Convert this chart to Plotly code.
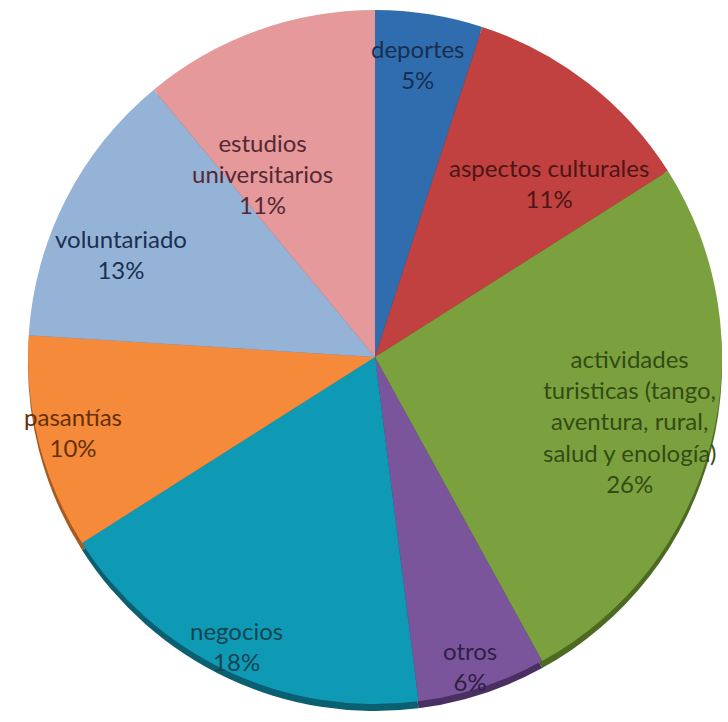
import math
import plotly.graph_objects as go

# Share of programme types (percent), clockwise from 12 o'clock
categories = [
    "deportes",
    "aspectos culturales",
    "actividades turisticas (tango, aventura, rural, salud y enología)",
    "otros",
    "negocios",
    "pasantías",
    "voluntariado",
    "estudios universitarios",
]
values = [5, 11, 26, 6, 18, 10, 13, 11]

# Wrapped label text as shown on each slice
label_lines = [
    ["deportes"],
    ["aspectos culturales"],
    ["actividades", "turisticas (tango,", "aventura, rural,", "salud y enología)"],
    ["otros"],
    ["negocios"],
    ["pasantías"],
    ["voluntariado"],
    ["estudios", "universitarios"],
]

# Styling
slice_colors = ["#2F6DAE", "#C0413F", "#7BA13F", "#7B559B",
                "#0E9AB5", "#F58A3B", "#95B3D7", "#E5999B"]
side_colors = ["#1E4A78", "#7E2826", "#4C6A22", "#4A2F63",
               "#0A5F70", "#A65A20", "#5C7AA0", "#9A5E60"]
text_colors = ["#1A2E50", "#4E1516", "#344B15", "#311E45",
               "#154452", "#653009", "#1A3050", "#552833"]
# label placement: fraction of radius and angular nudge (degrees)
label_radius = [0.84, 0.70, 0.75, 0.93, 0.92, 0.89, 0.78, 0.61]
label_nudge = [-0.6, 7.5, 0.2, 1.0, 0.2, 0.0, -5.3, -12.0]

W, H = 728, 722
cx_px, cy_px, r_px = 375, 357, 347
depth_px = 7

def dom(cx, cy, r):
    return dict(x=[(cx - r) / W, (cx + r) / W],
                y=[1 - (cy + r) / H, 1 - (cy - r) / H])

fig = go.Figure()

# darker copy drawn slightly lower gives the pie a thin 3D rim
fig.add_trace(go.Pie(
    labels=categories, values=values, sort=False, direction="clockwise",
    rotation=0, domain=dom(cx_px, cy_px + depth_px, r_px),
    marker=dict(colors=side_colors, line=dict(width=0)),
    textinfo="none", hoverinfo="skip", showlegend=False,
))

fig.add_trace(go.Pie(
    labels=categories, values=values, sort=False, direction="clockwise",
    rotation=0, domain=dom(cx_px, cy_px, r_px),
    marker=dict(colors=slice_colors, line=dict(width=0)),
    textinfo="none", showlegend=False,
))

total = sum(values)
cum = 0
for i, v in enumerate(values):
    mid = (cum + v / 2) / total * 360 + label_nudge[i]
    cum += v
    rr = label_radius[i] * 350
    x_px = cx_px + rr * math.sin(math.radians(mid))
    y_px = 355 - rr * math.cos(math.radians(mid))
    pct = round(v / total * 100)
    txt = "<br>".join(label_lines[i] + [f"{pct}%"])
    fig.add_annotation(
        x=x_px / W, y=1 - y_px / H, xref="paper", yref="paper",
        text=txt, showarrow=False, xanchor="center", yanchor="middle",
        align="center",
        font=dict(family="Lato, Carlito, Calibri, sans-serif", size=24,
                  color=text_colors[i]),
    )

fig.update_layout(
    width=W, height=H,
    margin=dict(l=0, r=0, t=0, b=0),
    paper_bgcolor="white", plot_bgcolor="white",
    showlegend=False,
)

fig.write_html("out.html")
